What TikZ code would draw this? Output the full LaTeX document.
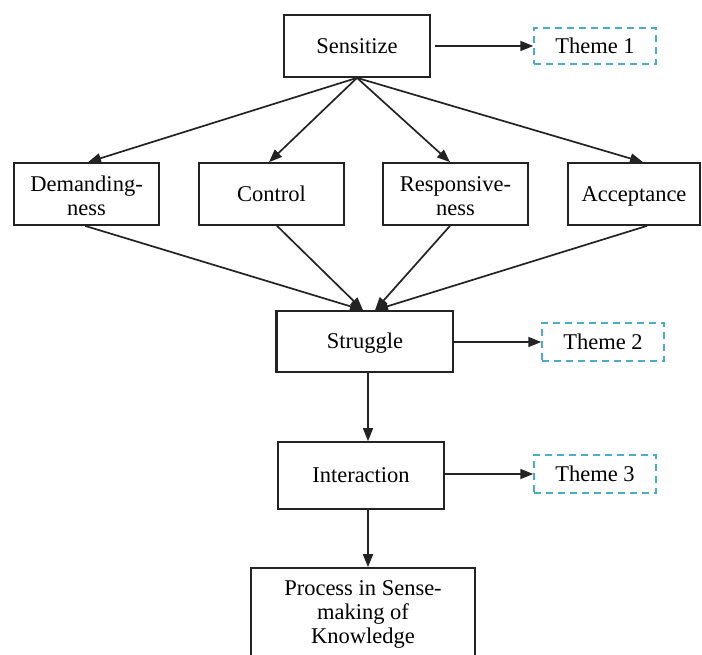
\documentclass[tikz,border=0pt]{standalone}
\usepackage{fontspec}
\setmainfont{Liberation Serif}
\usetikzlibrary{arrows.meta,calc}
\definecolor{themeblue}{RGB}{75,172,198}
\definecolor{edge}{RGB}{35,35,35}
\begin{document}
\begin{tikzpicture}[x=1pt,y=-1pt,
  every node/.style={font=\fontsize{22.5}{24}\selectfont, inner sep=0pt, align=center},
  box/.style={draw=edge, line width=1.7pt, fill=white},
  oneline/.style={text height=19pt, text depth=5pt},
  theme/.style={draw=themeblue, line width=1.5pt, dash pattern=on 7pt off 5pt,
                minimum width=122pt, text height=19pt, text depth=5pt},
  link/.style={draw=edge, line width=1.7pt, -{Triangle[length=13pt,width=10pt]}}
]
\useasboundingbox (0,0) rectangle (702,654);
\clip (0,0) rectangle (702,654);

% top level
\node[box, oneline, minimum width=146pt, minimum height=62pt] (sens) at (357,46) {Sensitize};
\node[theme, minimum height=36pt] (th1) at (595,46) {Theme 1};

% four dimensions
\node[box, minimum width=145pt, minimum height=62pt] (dem) at (86.5,194) {\rule{0pt}{19pt}Demanding-\\ness};
\node[box, oneline, minimum width=145pt, minimum height=62pt] (ctl) at (271.5,194) {Control};
\node[box, minimum width=145pt, minimum height=62pt] (resp) at (455.5,194) {\rule{0pt}{19pt}Responsive-\\ness};
\node[box, oneline, minimum width=132pt, minimum height=62pt] (acc) at (634,194) {Acceptance};

% struggle stage
\node[box, oneline, minimum width=176pt, minimum height=61pt] (strug) at (365,341.5) {Struggle};
\draw[edge, line width=3pt] (strug.north west) -- (strug.south west);
\node[theme, minimum height=38pt] (th2) at (603,342) {Theme 2};

% interaction stage
\node[box, oneline, minimum width=166pt, minimum height=67pt] (inter) at (361,475.5) {Interaction};
\node[theme, minimum height=38pt] (th3) at (595,474) {Theme 3};

% outcome
\node[box, minimum width=224pt, minimum height=92pt] (proc) at (363,614)
  {\fontsize{22.5}{24.5}\selectfont Process in Sense-\\making of\\Knowledge};

% connectors
\draw[link] ($(sens.east)+(4,0)$) -- (th1.west);
\draw[link] (sens.south) -- ($(dem.north)+(1.5,0)$);
\draw[link] (sens.south) -- ($(ctl.north)+(-2.5,0)$);
\draw[link] (sens.south) -- ($(resp.north)+(-5.5,0)$);
\draw[link] (sens.south) -- ($(acc.north)+(9,0)$);

\draw[link] ($(dem.south)+(-1.5,0)$) -- ($(strug.north)+(-2,0)$);
\draw[link] ($(ctl.south)+(5.5,0)$) -- ($(strug.north)+(-2,0)$);
\draw[link] ($(resp.south)+(-5.5,0)$) -- ($(strug.north)+(10,0)$);
\draw[link] ($(acc.south)+(13,0)$) -- ($(strug.north)+(10,0)$);

\draw[link] (strug.east |- th2.west) -- (th2.west);
\draw[link] ($(strug.south)+(3,0)$) -- ($(inter.north)+(7,0)$);
\draw[link] (inter.east |- th3.west) -- (th3.west);
\draw[link] ($(inter.south)+(7,0)$) -- ($(proc.north)+(5,0)$);
\end{tikzpicture}
\end{document}
